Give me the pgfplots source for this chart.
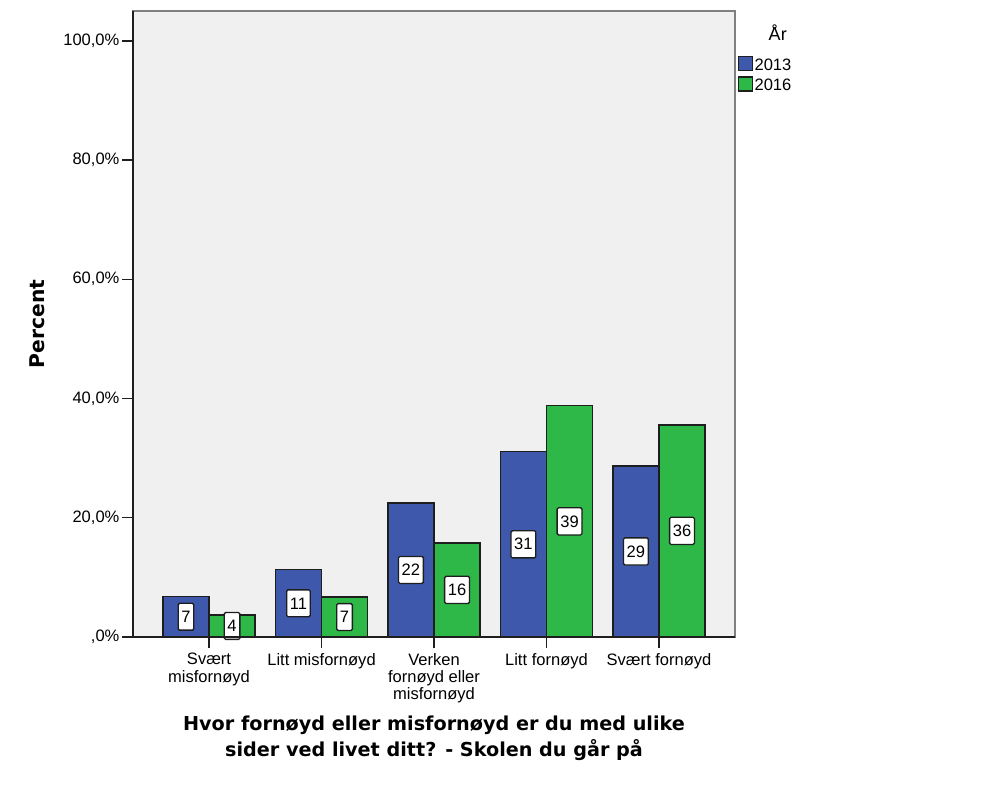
\documentclass[border=0pt]{standalone}
\usepackage{fontspec}
\setmainfont{Liberation Sans}
\newfontfamily\titlefont{DejaVu Sans}
\usepackage{pgfplots}
\pgfplotsset{compat=1.18}
\usepackage{pgfplotstable}

\definecolor{spssblue}{RGB}{62,88,172}
\definecolor{spssgreen}{RGB}{46,184,72}
\definecolor{plotbg}{RGB}{240,240,240}
\definecolor{edge}{RGB}{30,30,30}

% year 2013 and 2016, percent per answer
\pgfplotstableread{
x y lab
0 6.8 7
1 11.3 11
2 22.5 22
3 31.1 31
4 28.7 29
}\dataA
\pgfplotstableread{
x y lab
0 3.7 4
1 6.7 7
2 15.8 16
3 38.8 39
4 35.6 36
}\dataB

\newcommand{\tickfont}{\fontsize{12.4}{12.8}\selectfont}

\begin{document}
\begin{tikzpicture}
\useasboundingbox (-99.75pt,-113.25pt) rectangle (636.75pt,477.75pt);
\begin{axis}[
    at={(0pt,0pt)}, anchor=south west,
    scale only axis,
    width=451.5pt, height=469.5pt,
    xmin=-0.676, xmax=4.676,
    ymin=0, ymax=105,
    axis background/.style={fill=plotbg},
    axis line style={draw=gray, line width=1.2pt},
    xtick={0,1,2,3,4},
    xticklabels={{Svært\\misfornøyd},{Litt misfornøyd},{Verken\\fornøyd eller\\misfornøyd},{Litt fornøyd},{Svært fornøyd}},
    ytick={0,20,40,60,80,100},
    yticklabels={{,0\%},{20,0\%},{40,0\%},{60,0\%},{80,0\%},{100,0\%}},
    xtick pos=bottom, ytick pos=left,
    tick align=outside,
    major tick length=8pt,
    tick style={edge, line width=1.1pt},
    ticklabel style={font=\tickfont},
    xticklabel style={align=center, inner sep=1pt, yshift=-3pt, font=\fontsize{12.4}{13}\selectfont},
    yticklabel style={inner sep=2pt},
    xlabel={Hvor fornøyd eller misfornøyd er du med ulike\\sider ved livet ditt? - Skolen du går på},
    ylabel={Percent},
    every axis x label/.style={at={(rel axis cs:0.5,0)}, yshift=-76pt, anchor=center, align=center,
        font=\fontsize{14.4}{19.5}\selectfont\titlefont\bfseries},
    every axis y label/.style={at={(rel axis cs:0,0.5)}, xshift=-72pt, rotate=90, anchor=center,
        font=\fontsize{15.2}{16}\selectfont\titlefont\bfseries},
    legend style={at={(1.004,0.929)}, anchor=north west, draw=none, fill=none,
        font=\tickfont, row sep=1.5pt, inner sep=0pt,
        nodes={inner sep=1pt}},
    legend cell align=left,
    legend image code/.code={\draw[#1] (0pt,-3.5pt) rectangle (10.5pt,7pt);},
    after end axis/.code={
        \draw[edge, line width=1.6pt] (rel axis cs:0,1) -- (rel axis cs:0,0) -- (rel axis cs:1,0);
        \node[anchor=center, font=\fontsize{13.5}{14}\selectfont] at (rel axis cs:1.071,0.965) {År};
    },
]
\addplot[ybar, bar width=0.41, bar shift=-0.205, fill=spssblue, draw=edge, line width=1.2pt]
    table[x=x, y=y] {\dataA};
\addlegendentry{2013}
\addplot[ybar, bar width=0.41, bar shift=0.205, fill=spssgreen, draw=edge, line width=1.2pt]
    table[x=x, y=y] {\dataB};
\addlegendentry{2016}

% value boxes in the middle of each bar
\addplot[forget plot, draw=none, mark=none, nodes near coords, point meta=explicit symbolic,
    nodes near coords style={anchor=center, fill=white, draw=edge, line width=1pt, rounded corners=1pt,
        inner xsep=2.4pt, inner ysep=5.8pt, text=black, font=\tickfont}]
    table[x expr=\thisrow{x}-0.205, y expr=\thisrow{y}/2, meta=lab] {\dataA};
\addplot[forget plot, draw=none, mark=none, nodes near coords, point meta=explicit symbolic,
    nodes near coords style={anchor=center, fill=white, draw=edge, line width=1pt, rounded corners=1pt,
        inner xsep=2.4pt, inner ysep=5.8pt, text=black, font=\tickfont}]
    table[x expr=\thisrow{x}+0.205, y expr=\thisrow{y}/2, meta=lab] {\dataB};
\end{axis}
\end{tikzpicture}
\end{document}
